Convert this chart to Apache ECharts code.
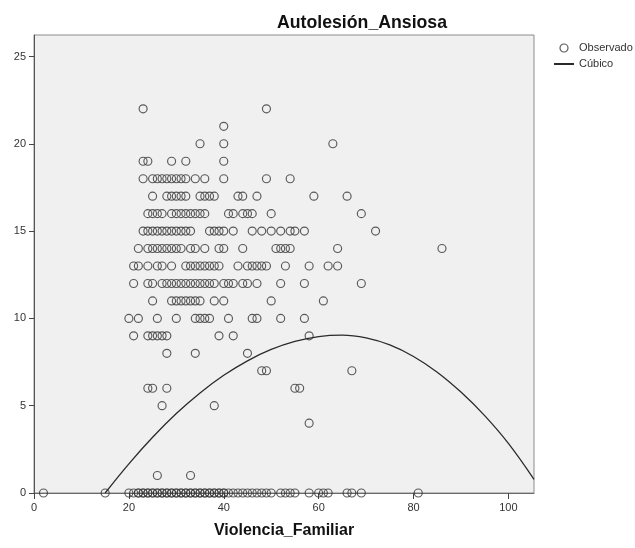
<!DOCTYPE html>
<html>
<head>
<meta charset="utf-8">
<script src="https://cdn.jsdelivr.net/npm/echarts@6/dist/echarts.min.js"></script>
<style>
  html, body { margin: 0; padding: 0; background: #ffffff; }
  #chart { width: 635px; height: 548px; }
</style>
</head>
<body>
<div id="chart"></div>
<script>
// Texts and ticks
const chartTitle = 'Autolesión_Ansiosa';
const xAxisName = 'Violencia_Familiar';
const legendObserved = 'Observado';
const legendCubic = 'Cúbico';
const xTicks = [0, 20, 40, 60, 80, 100];
const yTicks = [0, 5, 10, 15, 20, 25];

// Observed cases: Autolesión_Ansiosa levels and the Violencia_Familiar scores at each level
const levels = [0, 1, 4, 5, 6, 7, 8, 9, 10, 11, 12, 13, 14, 15, 16, 17, 18, 19, 20, 21, 22];
const violenciaByLevel = [
  [2, 15, 20, 21, 22, 22, 23, 23, 24, 24, 25, 25, 26, 26, 27, 27, 28, 28, 29, 29, 30, 30, 31, 31, 32, 32, 33, 33, 34, 34, 35, 35, 36, 36, 37, 37, 38, 38, 39, 39, 40, 40, 41, 42, 43, 44, 45, 46, 47, 48, 49, 50, 52, 53, 54, 55, 58, 60, 61, 62, 66, 67, 69, 81],
  [26, 33],
  [58],
  [27, 38],
  [24, 25, 28, 55, 56],
  [48, 49, 67],
  [28, 34, 45],
  [21, 24, 25, 26, 27, 28, 39, 42, 58],
  [20, 22, 26, 30, 34, 35, 36, 37, 41, 46, 47, 52, 57],
  [25, 29, 30, 31, 32, 33, 34, 35, 38, 40, 50, 61],
  [21, 24, 25, 27, 28, 29, 30, 31, 32, 33, 34, 35, 36, 37, 38, 40, 41, 42, 44, 45, 47, 52, 57, 69],
  [21, 22, 24, 26, 27, 29, 32, 33, 34, 35, 36, 37, 38, 39, 43, 45, 46, 47, 48, 49, 53, 58, 62, 64],
  [22, 24, 25, 26, 27, 28, 29, 30, 31, 33, 34, 36, 39, 40, 44, 51, 52, 53, 54, 64, 86],
  [23, 24, 25, 26, 27, 28, 29, 30, 31, 32, 33, 37, 38, 39, 40, 42, 46, 48, 50, 52, 54, 55, 57, 72],
  [24, 25, 26, 27, 29, 30, 31, 32, 33, 34, 35, 36, 41, 42, 44, 45, 46, 50, 69],
  [25, 28, 29, 30, 31, 32, 35, 36, 37, 38, 43, 44, 47, 59, 66],
  [23, 25, 26, 27, 28, 29, 30, 31, 32, 34, 36, 40, 49, 54],
  [23, 24, 29, 32, 40],
  [35, 40, 63],
  [40],
  [23, 49]
];

// Fitted cubic curve, sampled along Violencia_Familiar
const cubicX = [15, 20, 25, 30, 35, 40, 45, 50, 55, 60, 65, 70, 75, 80, 85, 90, 95, 100, 105.4];
const cubicY = [0, 1.67, 3.19, 4.55, 5.73, 6.74, 7.57, 8.22, 8.68, 8.96, 9.04, 8.88, 8.48, 7.82, 6.92, 5.78, 4.43, 2.84, 0.78];

const observedPoints = [];
levels.forEach(function (lvl, i) {
  violenciaByLevel[i].forEach(function (v) { observedPoints.push([v, lvl]); });
});
const cubicPoints = cubicX.map(function (x, i) { return [x, cubicY[i]]; });

const FONT = '"Liberation Sans", Arial, sans-serif';
const chart = echarts.init(document.getElementById('chart'), null, { renderer: 'canvas' });

chart.setOption({
  animation: false,
  backgroundColor: '#ffffff',
  title: {
    text: chartTitle,
    left: 272,
    top: 9,
    textStyle: { fontFamily: FONT, fontSize: 17.7, fontWeight: 'bold', color: '#111' }
  },
  legend: {
    left: 548,
    top: 37,
    orient: 'vertical',
    itemWidth: 20,
    itemHeight: 8,
    itemGap: 4,
    textStyle: { fontFamily: FONT, fontSize: 11, color: '#333', lineHeight: 12 },
    data: [
      { name: legendObserved, icon: 'circle', itemStyle: { color: 'rgba(0,0,0,0)', borderColor: '#333', borderWidth: 1.2 } },
      { name: legendCubic, itemStyle: { color: 'rgba(0,0,0,0)', borderWidth: 0, opacity: 0 } }
    ]
  },
  grid: {
    left: 34,
    top: 35,
    right: 101,
    bottom: 55,
    show: true,
    backgroundColor: '#f0f0f0',
    borderColor: '#8c8c8c',
    borderWidth: 1,
    outerBoundsMode: 'none'
  },
  xAxis: {
    type: 'value',
    min: 0,
    max: 105.4,
    name: xAxisName,
    nameLocation: 'middle',
    nameGap: 30,
    nameTextStyle: { fontFamily: FONT, fontSize: 16, fontWeight: 'bold', color: '#111' },
    splitLine: { show: false },
    axisLine: { show: true, onZero: false, lineStyle: { color: '#6a6a6a', width: 1 } },
    axisTick: { show: true, length: 6, customValues: xTicks, lineStyle: { color: '#444' } },
    axisLabel: { customValues: xTicks, margin: 9, fontFamily: FONT, fontSize: 11, color: '#333' }
  },
  yAxis: {
    type: 'value',
    min: 0,
    max: 26.23,
    splitLine: { show: false },
    axisLine: { show: true, onZero: false, lineStyle: { color: '#555', width: 1 } },
    axisTick: { show: true, length: 5, customValues: yTicks, lineStyle: { color: '#444' } },
    axisLabel: { customValues: yTicks, margin: 8, fontFamily: FONT, fontSize: 11, color: '#333' }
  },
  series: [
    {
      name: legendObserved,
      type: 'scatter',
      data: observedPoints,
      symbol: 'circle',
      symbolSize: 8,
      clip: false,
      itemStyle: { color: 'rgba(0,0,0,0)', borderColor: '#333', borderWidth: 1.15 },
      emphasis: { disabled: true },
      z: 3
    },
    {
      name: legendCubic,
      type: 'line',
      data: cubicPoints,
      symbol: 'none',
      smooth: 0.4,
      itemStyle: { color: 'rgba(0,0,0,0)', borderWidth: 0 },
      lineStyle: { color: '#2a2a2a', width: 1.3 },
      emphasis: { disabled: true },
      z: 4
    }
  ]
});
</script>
</body>
</html>
